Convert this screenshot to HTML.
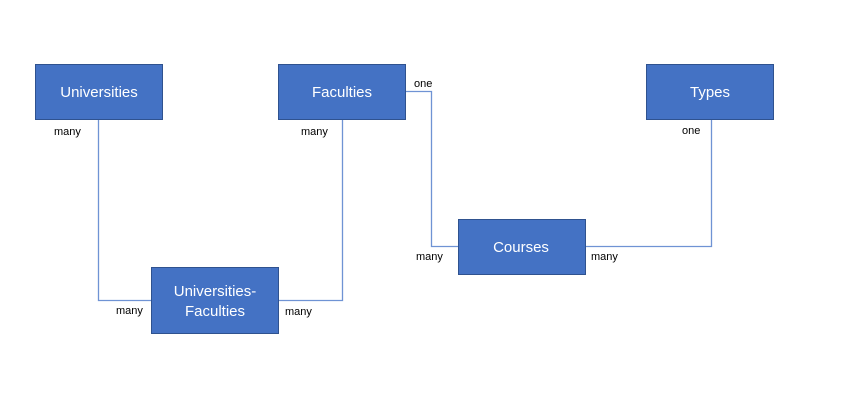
<!DOCTYPE html>
<html><head><meta charset="utf-8"><style>
html,body{margin:0;padding:0;background:#fff;}
svg{display:block;}
.b{fill:#4472c4;stroke:#2f528f;stroke-width:1;}
.t{font-family:"Liberation Sans",sans-serif;font-size:15px;fill:#fff;text-anchor:middle;}
.l{font-family:"Liberation Sans",sans-serif;font-size:11px;fill:#000;}
.c{fill:none;stroke:#6f93d4;stroke-width:1.3;}
</style></head><body>
<svg width="845" height="416" viewBox="0 0 845 416" xmlns="http://www.w3.org/2000/svg">
<rect width="845" height="416" fill="#fff"/>
<path class="c" d="M98.5 120 V300.5 H151"/>
<path class="c" d="M342.5 120 V300.5 H279"/>
<path class="c" d="M406 91.5 H431.5 V246.5 H458"/>
<path class="c" d="M586 246.5 H711.5 V120"/>
<rect class="b" x="35.5" y="64.5" width="127" height="55"/>
<rect class="b" x="278.5" y="64.5" width="127" height="55"/>
<rect class="b" x="646.5" y="64.5" width="127" height="55"/>
<rect class="b" x="458.5" y="219.5" width="127" height="55"/>
<rect class="b" x="151.5" y="267.5" width="127" height="66"/>
<text class="t" x="99" y="97">Universities</text>
<text class="t" x="342" y="97">Faculties</text>
<text class="t" x="710" y="97">Types</text>
<text class="t" x="521" y="252">Courses</text>
<text class="t" x="215" y="296">Universities-</text>
<text class="t" x="215" y="316">Faculties</text>
<text class="l" x="54" y="135">many</text>
<text class="l" x="301" y="135">many</text>
<text class="l" x="414" y="87">one</text>
<text class="l" x="682" y="134">one</text>
<text class="l" x="416" y="260">many</text>
<text class="l" x="591" y="260">many</text>
<text class="l" x="116" y="314">many</text>
<text class="l" x="285" y="315">many</text>
</svg>
</body></html>
